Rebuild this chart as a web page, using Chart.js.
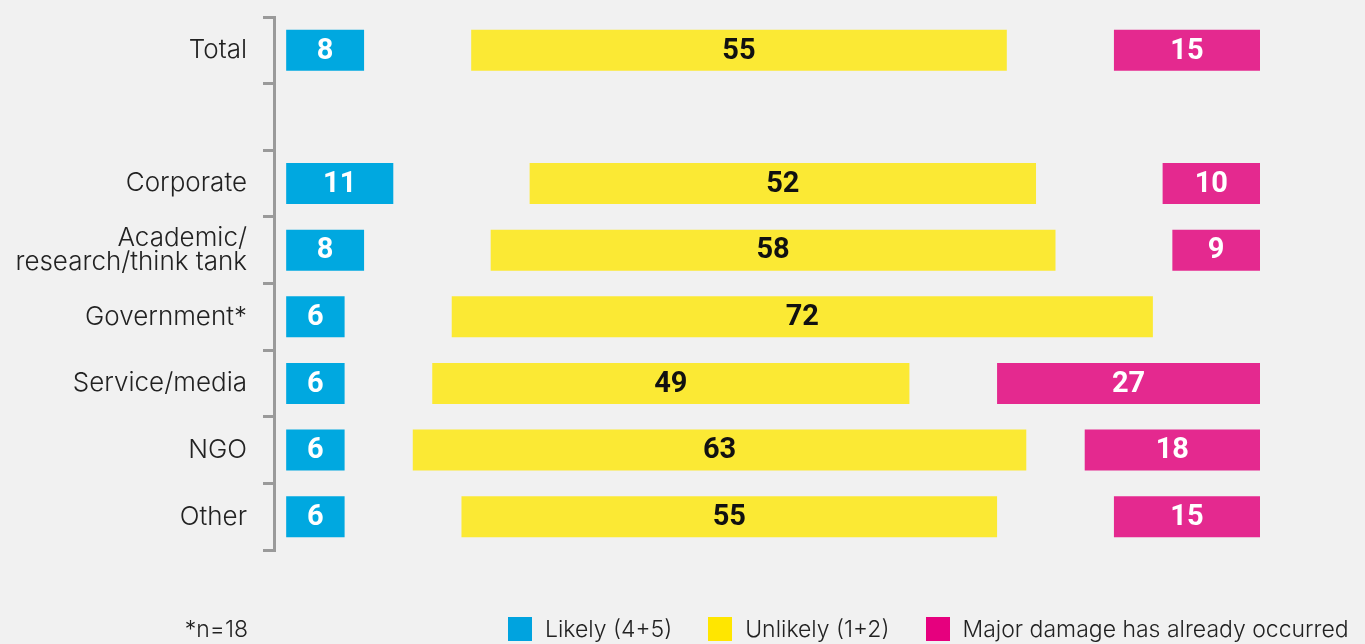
<!DOCTYPE html>
<html>
<head>
<meta charset="utf-8">
<script src="https://cdn.jsdelivr.net/npm/chart.js@4.4.1/dist/chart.umd.min.js"></script>
<style>
  html, body { margin: 0; padding: 0; background: #f1f1f1; overflow: hidden; }
  #wrap { position: relative; width: 1365px; height: 644px; }
  #legend { position: absolute; left: 508px; top: 617px; display: flex; align-items: center; line-height: 24px;
            font-family: Inter, Roboto, sans-serif; font-weight: 300; font-size: 23px; color: #222; white-space: nowrap; }
  #legend .item { display: flex; align-items: center; margin-right: 36px; }
  #legend .box { width: 24px; height: 24px; margin-right: 13px; }
  #footnote { position: absolute; right: 1117px; top: 617px; line-height: 24px;
              font-family: Inter, Roboto, sans-serif; font-weight: 300; font-size: 23px; color: #222; }
</style>
</head>
<body>
<div id="wrap">
  <canvas id="chart" width="1365" height="644"></canvas>
  <div id="footnote">*n=18</div>
  <div id="legend"></div>
</div>
<script>
// categorias (linha vazia entre Total e os grupos)
const categorias = ['Total', '', 'Corporate', ['Academic/', 'research/think tank'], 'Government*', 'Service/media', 'NGO', 'Other'];

// valores (%)
const likely      = [8, null, 11, 8, 6, 6, 6, 6];
const neutro      = [11, null, 14, 13, 11, 9, 7, 12];   // espaço não rotulado
const unlikely    = [55, null, 52, 58, 72, 49, 63, 55];
const semResposta = [11, null, 13, 12, 11, 9, 6, 12];   // espaço não rotulado
const majorDamage = [15, null, 10, 9, null, 27, 18, 15];

const legendaNomes = ['Likely (4+5)', 'Unlikely (1+2)', 'Major damage has already occurred'];
const legendaCores = ['#00a3df', '#ffe600', '#e6007e'];

const corAzul = '#00a8e0';
const corAmarela = '#fbe934';
const corRosa = '#e4298f';

// rótulos dentro das barras
const rotulosPlugin = {
  id: 'rotulos',
  afterDatasetsDraw(chart) {
    const ctx = chart.ctx;
    ctx.save();
    ctx.font = 'bold 29px Roboto, sans-serif';
    ctx.textAlign = 'center';
    ctx.textBaseline = 'middle';
    chart.data.datasets.forEach((ds, i) => {
      if (!ds.mostrarRotulo) return;
      chart.getDatasetMeta(i).data.forEach((bar, j) => {
        const v = ds.data[j];
        if (v === null || v === undefined) return;
        ctx.fillStyle = ds.corRotulo;
        ctx.fillText(String(v), (bar.x + bar.base) / 2, bar.y + 1);
      });
    });
    ctx.restore();
  }
};

const ctx = document.getElementById('chart').getContext('2d');
new Chart(ctx, {
  type: 'bar',
  data: {
    labels: categorias,
    datasets: [
      { label: legendaNomes[0], data: likely, backgroundColor: corAzul, mostrarRotulo: true, corRotulo: '#ffffff' },
      { label: 'neutro', data: neutro, backgroundColor: 'rgba(0,0,0,0)' },
      { label: legendaNomes[1], data: unlikely, backgroundColor: corAmarela, mostrarRotulo: true, corRotulo: '#111111' },
      { label: 'semResposta', data: semResposta, backgroundColor: 'rgba(0,0,0,0)' },
      { label: legendaNomes[2], data: majorDamage, backgroundColor: corRosa, mostrarRotulo: true, corRotulo: '#ffffff' }
    ]
  },
  options: {
    indexAxis: 'y',
    responsive: false,
    animation: false,
    layout: { padding: { top: 17, bottom: 94, left: 0, right: 105 } },
    datasets: { bar: { barPercentage: 0.615, categoryPercentage: 1 } },
    scales: {
      x: { stacked: true, display: false, min: -1.25, max: 100 },
      y: {
        stacked: true,
        afterFit: (scale) => {
          scale.width = 274;
          scale.paddingTop = 0;
          scale.paddingBottom = 0;
        },
        grid: { offset: true, drawOnChartArea: false, color: '#9a9a9a', lineWidth: 3, tickLength: 11 },
        border: { color: '#9a9a9a', width: 3 },
        ticks: { padding: 16, color: '#222', font: { family: 'Inter, Roboto, sans-serif', weight: '300', size: 26, lineHeight: 0.96 } }
      }
    },
    plugins: { legend: { display: false }, tooltip: { enabled: false } }
  },
  plugins: [rotulosPlugin]
});

// legenda em HTML
const legenda = document.getElementById('legend');
legendaNomes.forEach((nome, i) => {
  const item = document.createElement('div');
  item.className = 'item';
  item.innerHTML = `<span class="box" style="background:${legendaCores[i]}"></span><span>${nome}</span>`;
  legenda.appendChild(item);
});
</script>
</body>
</html>
